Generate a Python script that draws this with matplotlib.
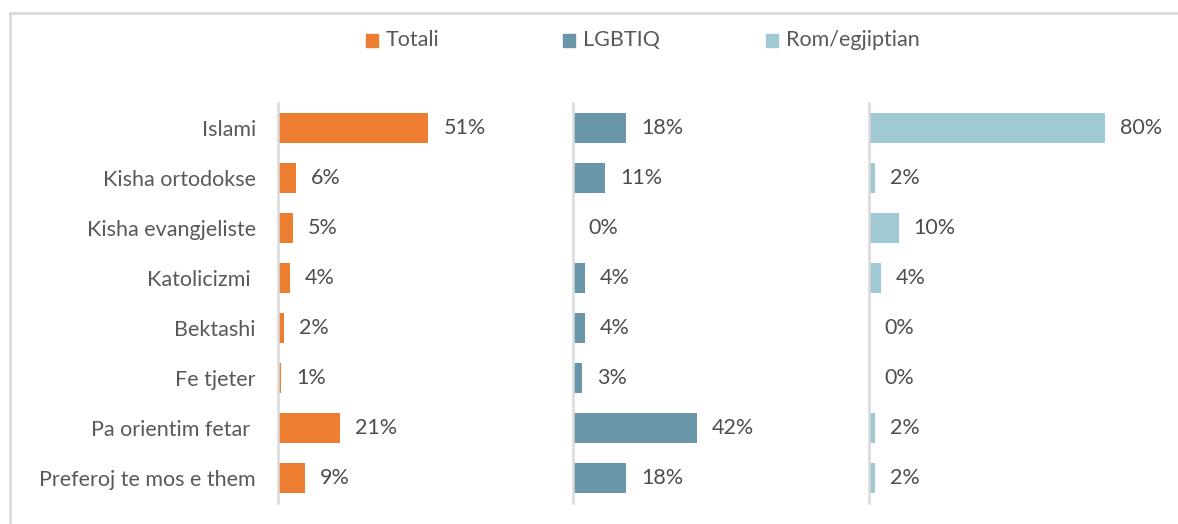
import matplotlib.pyplot as plt
from matplotlib.patches import Rectangle
from matplotlib.lines import Line2D

plt.rcParams['font.family'] = ['Lato', 'DejaVu Sans']

categories = ["Islami", "Kisha ortodokse", "Kisha evangjeliste", "Katolicizmi ",
              "Bektashi", "Fe tjeter", "Pa orientim fetar ", "Preferoj te mos e them"]
totali = [51, 6, 5, 4, 2, 1, 21, 9]
lgbtiq = [18, 11, 0, 4, 4, 3, 42, 18]
rom = [80, 2, 10, 4, 0, 0, 2, 2]

series = ["Totali", "LGBTIQ", "Rom/egjiptian"]
values = [totali, lgbtiq, rom]
colors = ["#ED7D31", "#6A96AA", "#A0C9D3"]

TEXT = "#595959"
FS = 15.5
W, H = 1178, 524

fig = plt.figure(figsize=(W / 100, H / 100), dpi=100)

# outer chart border (only top and left visible in reference)
fig.add_artist(Line2D([10 / W, 10 / W], [0, 1 - 13 / H], transform=fig.transFigure,
                      color="#D9D9D9", lw=2))
fig.add_artist(Line2D([10 / W, 1], [1 - 13 / H, 1 - 13 / H], transform=fig.transFigure,
                      color="#D9D9D9", lw=2))

panel_left = [278, 573, 869]
y = list(range(len(categories)))
for i, (name, vals, col) in enumerate(zip(series, values, colors)):
    ax = fig.add_axes([panel_left[i] / W, 1 - 503 / H, 295 / W, 400 / H])
    ax.barh(y, vals, height=0.6, color=col)
    ax.set_xlim(0, 100)
    ax.set_ylim(len(categories) - 0.5, -0.5)
    for s in ["top", "right", "bottom"]:
        ax.spines[s].set_visible(False)
    ax.spines["left"].set_color("#D9D9D9")
    ax.spines["left"].set_linewidth(1.8)
    ax.set_xticks([])
    ax.tick_params(axis="y", length=0, pad=16)
    ax.set_facecolor("none")
    if i == 0:
        ax.set_yticks(y)
        ax.set_yticklabels(categories, fontsize=FS, color=TEXT)
    else:
        ax.set_yticks([])
    for yy, v in zip(y, vals):
        ax.annotate(f"{v}%", (v, yy), xytext=(11, 0), textcoords="offset points",
                    ha="left", va="center", fontsize=FS, color="#4D4D4D")

# legend
legend_x = [366, 563, 766]
for lx, name, col in zip(legend_x, series, colors):
    fig.add_artist(Rectangle((lx / W, 1 - 47 / H), 12 / W, 13 / H,
                             transform=fig.transFigure, color=col))
    fig.text((lx + 20) / W, 1 - 40 / H, name, ha="left", va="center",
             fontsize=FS, color=TEXT)

fig.savefig("out.png", dpi=100, facecolor="white")
